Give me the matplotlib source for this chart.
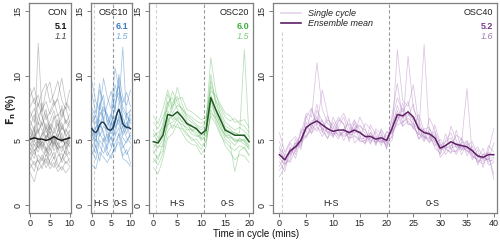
import numpy as np
import matplotlib.pyplot as plt

plt.rcParams['font.family'] = ['Liberation Sans', 'DejaVu Sans']

# single cycles, CON (t = 0..10 min)
con_cycles = [
    [5.2, 6.1, 4.8, 5.5, 6.3, 4.9, 5.8, 6.6, 5.1, 4.7, 5.4],
    [4.1, 3.6, 4.9, 4.2, 3.8, 4.6, 5.2, 4.0, 3.5, 4.4, 4.8],
    [6.8, 7.5, 6.2, 7.9, 6.6, 7.2, 8.1, 6.9, 7.4, 6.3, 7.0],
    [3.2, 2.6, 3.9, 3.4, 4.5, 3.1, 3.7, 2.9, 3.6, 4.2, 3.3],
    [5.9, 5.1, 12.5, 7.0, 5.6, 6.2, 5.0, 5.7, 6.4, 5.3, 5.8],
    [2.5, 1.8, 3.0, 3.7, 2.9, 3.5, 4.1, 3.2, 2.7, 3.4, 3.0],
    [8.4, 9.1, 7.6, 8.8, 9.4, 7.9, 8.6, 9.6, 8.1, 7.4, 8.9],
    [4.6, 5.4, 5.9, 4.3, 5.1, 5.7, 4.5, 5.3, 6.0, 5.5, 4.9],
    [7.2, 6.4, 7.9, 6.8, 5.9, 6.5, 7.3, 6.1, 6.7, 7.6, 6.4],
    [3.9, 4.7, 4.1, 5.0, 4.4, 3.8, 4.9, 4.3, 4.6, 3.9, 5.2],
    [5.6, 4.9, 6.4, 5.8, 5.2, 6.0, 5.5, 6.3, 4.8, 5.9, 5.3],
    [6.1, 7.0, 5.5, 6.6, 7.4, 5.8, 6.9, 5.6, 7.7, 6.4, 6.0],
    [4.4, 3.9, 5.2, 4.7, 4.0, 5.4, 4.2, 4.8, 4.1, 5.0, 4.5],
    [9.0, 7.8, 8.5, 7.2, 8.9, 9.5, 7.7, 8.3, 9.8, 8.0, 7.5],
    [5.0, 5.8, 4.4, 5.3, 6.0, 4.6, 5.4, 4.7, 5.6, 4.3, 5.7],
    [3.5, 4.3, 3.3, 3.9, 3.2, 4.4, 3.6, 4.5, 3.3, 3.8, 4.1],
    [6.5, 5.7, 6.9, 6.1, 7.1, 5.4, 6.7, 7.0, 5.8, 6.6, 6.2],
    [4.8, 4.2, 4.6, 5.6, 4.9, 4.3, 5.0, 4.4, 5.2, 4.6, 3.9],
    [7.6, 8.3, 6.9, 7.4, 8.0, 7.0, 7.7, 8.2, 6.8, 7.9, 7.3],
    [2.9, 3.4, 2.7, 3.1, 3.6, 2.8, 3.3, 2.6, 3.0, 2.5, 2.9],
    [5.3, 4.6, 5.0, 4.5, 5.4, 5.1, 4.7, 5.5, 4.9, 5.2, 4.8],
    [4.3, 5.0, 4.4, 4.9, 4.2, 4.7, 5.3, 4.6, 4.4, 4.9, 4.6],
    [6.0, 5.3, 5.7, 6.4, 5.0, 6.3, 5.9, 5.2, 6.2, 5.6, 6.5],
    [3.7, 3.1, 3.5, 2.8, 3.9, 3.3, 2.9, 3.8, 4.0, 3.2, 3.6],
]
con_mean = [5.1, 5.2, 5.1, 5.1, 5.0, 5.1, 5.3, 5.1, 5.0, 5.1, 5.2]

# OSC10 (t = 0..10 min)
osc10_cycles = [
    [5.8, 4.9, 7.2, 6.8, 5.1, 6.3, 7.5, 9.8, 6.4, 5.5, 6.7],
    [4.2, 3.5, 5.0, 4.6, 3.8, 4.4, 5.3, 6.0, 4.7, 3.9, 4.5],
    [7.5, 6.8, 8.9, 7.9, 6.4, 7.1, 8.4, 9.2, 7.6, 7.0, 7.3],
    [6.1, 5.2, 5.8, 7.4, 6.9, 5.5, 6.2, 7.8, 12.2, 6.6, 5.9],
    [3.9, 4.6, 3.4, 5.2, 4.1, 3.6, 4.8, 5.5, 3.8, 4.3, 3.2],
    [8.6, 7.1, 9.4, 6.5, 7.8, 8.8, 7.2, 10.1, 8.3, 7.7, 8.9],
    [5.3, 6.0, 6.6, 5.4, 4.9, 5.8, 6.9, 6.2, 5.6, 6.4, 5.1],
    [6.9, 5.8, 7.7, 8.5, 6.2, 6.7, 9.3, 8.1, 6.8, 5.9, 7.4],
    [4.7, 4.0, 5.6, 4.9, 5.5, 4.5, 5.9, 6.6, 5.2, 4.8, 5.6],
    [9.5, 8.0, 7.3, 9.8, 8.3, 7.4, 10.6, 9.0, 7.9, 8.7, 7.6],
    [5.0, 5.5, 6.2, 5.7, 4.3, 6.5, 5.4, 7.0, 6.0, 5.2, 4.8],
    [3.1, 2.8, 4.1, 3.7, 3.3, 3.9, 4.4, 4.9, 3.6, 3.4, 3.0],
    [7.2, 6.3, 6.9, 7.6, 7.0, 6.1, 7.9, 8.7, 7.3, 6.8, 6.5],
    [6.4, 6.9, 5.3, 6.1, 5.7, 5.0, 6.5, 7.4, 5.9, 7.1, 6.3],
    [5.6, 4.4, 7.9, 6.3, 5.9, 7.0, 6.0, 6.8, 5.4, 6.0, 7.0],
    [4.5, 5.1, 4.6, 4.0, 4.7, 5.3, 4.1, 5.6, 4.4, 5.0, 5.4],
]
osc10_mean = [5.9, 5.7, 5.6, 5.8, 6.2, 6.4, 6.4, 6.2, 5.9, 5.8, 5.8,
              6.0, 6.5, 7.1, 7.4, 6.9, 6.3, 6.1, 6.0, 6.0, 5.9]

# OSC20 (t = 0..20 min)
osc20_cycles = [
    [4.2, 3.5, 4.8, 6.1, 7.9, 8.4, 7.2, 6.5, 5.7, 6.0, 5.1, 5.3, 9.6, 8.2, 6.9, 5.5, 5.0, 4.6, 5.2, 4.9, 4.3],
    [5.8, 5.2, 6.3, 8.6, 7.4, 9.1, 7.8, 6.9, 6.6, 6.2, 6.0, 6.4, 11.4, 8.8, 7.3, 6.4, 6.1, 5.8, 6.0, 5.7, 5.3],
    [3.6, 3.1, 4.0, 5.7, 6.2, 6.0, 5.9, 5.4, 5.2, 4.8, 4.3, 5.0, 6.9, 6.3, 5.4, 4.9, 4.5, 4.2, 4.6, 4.4, 3.8],
    [6.4, 5.9, 6.8, 7.5, 8.8, 7.9, 7.4, 7.0, 6.8, 6.5, 6.3, 6.6, 9.2, 8.0, 7.6, 6.8, 6.5, 6.7, 6.3, 6.1, 5.6],
    [4.7, 4.4, 5.1, 7.3, 6.6, 7.0, 6.4, 5.8, 5.9, 5.6, 5.0, 5.4, 8.0, 7.2, 6.2, 5.3, 5.2, 5.0, 4.9, 5.1, 4.6],
    [2.9, 2.4, 3.6, 5.2, 5.5, 6.3, 5.6, 5.0, 4.7, 4.6, 3.9, 4.5, 7.4, 6.5, 5.6, 4.6, 4.1, 3.5, 3.9, 3.8, 3.3],
    [5.3, 5.6, 6.0, 8.0, 7.1, 7.7, 7.5, 6.7, 6.4, 6.1, 5.8, 6.2, 10.1, 7.8, 7.0, 6.1, 5.9, 5.5, 5.6, 12.0, 5.1],
    [4.0, 4.6, 4.5, 6.5, 6.9, 6.5, 6.2, 6.0, 5.5, 5.3, 5.4, 5.6, 7.7, 7.0, 6.3, 5.7, 5.3, 5.1, 5.0, 4.7, 4.4],
    [6.9, 6.3, 7.4, 8.9, 7.6, 8.2, 8.3, 7.4, 7.2, 6.9, 6.6, 6.8, 8.8, 8.5, 7.8, 7.1, 6.9, 6.4, 6.5, 6.6, 6.0],
    [3.3, 3.8, 4.2, 6.8, 5.9, 6.7, 6.0, 5.6, 5.0, 5.1, 4.6, 4.9, 7.1, 6.8, 5.9, 5.1, 4.8, 2.6, 4.2, 4.5, 3.9],
    [5.5, 4.9, 5.7, 7.9, 8.3, 7.4, 6.9, 6.3, 6.2, 5.8, 5.5, 5.9, 8.5, 7.5, 6.6, 5.9, 5.7, 5.6, 5.4, 5.3, 4.8],
    [4.4, 5.0, 5.9, 6.2, 6.4, 6.8, 6.5, 6.2, 5.8, 5.4, 5.2, 5.7, 8.3, 6.7, 6.0, 5.4, 5.4, 4.9, 5.1, 5.0, 4.5],
]
osc20_mean = [4.9, 4.8, 5.4, 7.0, 6.9, 7.2, 6.8, 6.3, 6.1, 5.9, 5.5,
              5.8, 8.3, 7.4, 6.6, 5.8, 5.6, 5.4, 5.4, 5.4, 4.9]

# OSC40 (t = 0..40 min)
osc40_cycles = [
    [2.2, 3.0, 3.8, 4.6, 5.5, 7.1, 6.8, 11.0, 7.4, 6.3, 5.9, 6.8, 6.2, 5.1, 6.5, 5.8, 4.9, 5.6, 4.7, 5.4, 4.8,
     6.6, 8.3, 7.2, 8.0, 6.4, 5.1, 5.9, 6.0, 4.8, 3.9, 5.0, 5.6, 4.4, 5.2, 4.3, 3.9, 3.4, 3.2, 3.8, 2.4],
    [5.6, 4.1, 4.9, 5.3, 4.6, 6.8, 7.5, 6.2, 8.9, 7.0, 5.2, 6.4, 7.1, 6.0, 5.5, 6.8, 5.9, 4.8, 5.7, 4.9, 5.4,
     5.2, 12.0, 8.1, 7.6, 9.3, 6.2, 5.0, 6.7, 5.8, 3.7, 4.2, 6.1, 5.0, 3.9, 4.8, 3.5, 4.3, 2.9, 4.6, 4.1],
    [3.4, 2.6, 4.4, 3.9, 5.7, 5.2, 6.0, 7.8, 5.6, 6.6, 6.1, 5.3, 5.6, 6.7, 4.8, 5.2, 6.3, 5.9, 4.6, 5.8, 4.3,
     6.2, 7.3, 6.1, 11.5, 7.4, 6.6, 5.3, 4.9, 6.2, 4.8, 3.9, 4.5, 5.4, 5.1, 3.8, 4.6, 3.1, 4.0, 3.3, 3.6],
    [4.5, 3.2, 3.5, 5.1, 4.3, 6.4, 5.5, 6.9, 6.0, 5.1, 6.8, 5.9, 5.0, 5.8, 6.6, 5.3, 4.7, 6.2, 5.4, 4.6, 5.7,
     5.5, 6.4, 7.9, 6.3, 6.1, 5.4, 12.4, 5.2, 4.6, 5.1, 4.4, 4.0, 5.8, 4.2, 5.0, 4.1, 4.5, 3.7, 3.5, 4.8],
    [3.0, 3.9, 4.8, 4.1, 5.9, 5.6, 7.4, 6.1, 5.3, 6.0, 5.4, 6.6, 6.3, 4.9, 6.0, 6.2, 5.5, 4.7, 5.9, 5.5, 4.4,
     6.9, 9.4, 6.7, 7.3, 5.9, 7.0, 5.7, 5.6, 4.4, 4.0, 5.5, 4.3, 4.1, 4.9, 9.0, 3.7, 3.6, 4.4, 3.1, 3.3],
    [4.9, 3.7, 4.0, 4.8, 4.9, 6.9, 5.9, 7.3, 6.5, 5.6, 5.3, 6.0, 6.8, 5.4, 6.3, 4.9, 5.0, 5.6, 4.8, 5.9, 5.1,
     6.0, 7.7, 6.4, 6.9, 7.8, 5.6, 4.9, 5.9, 5.1, 4.6, 4.9, 5.2, 4.5, 4.4, 4.6, 4.9, 3.8, 3.5, 4.2, 5.9],
    [2.7, 3.3, 4.5, 3.6, 5.2, 5.9, 6.5, 6.7, 5.8, 6.9, 5.7, 5.1, 5.9, 6.3, 5.6, 5.7, 5.3, 5.1, 5.2, 4.8, 5.6,
     5.6, 6.5, 7.5, 6.2, 6.3, 5.1, 5.5, 4.8, 5.5, 4.2, 4.7, 4.8, 3.9, 4.7, 4.1, 4.3, 3.3, 3.9, 4.0, 2.0],
    [4.1, 3.6, 3.3, 4.3, 4.8, 5.3, 6.2, 5.7, 6.6, 5.5, 6.4, 5.7, 5.4, 5.7, 5.9, 6.1, 5.8, 5.0, 4.9, 5.1, 4.7,
     5.3, 6.8, 6.8, 7.0, 6.6, 6.0, 5.8, 5.3, 5.0, 4.5, 4.4, 4.6, 4.8, 4.3, 4.4, 4.0, 3.9, 3.6, 4.1, 3.8],
    [3.7, 3.1, 4.1, 4.4, 5.0, 5.4, 5.8, 6.3, 5.9, 5.7, 5.5, 5.6, 5.3, 5.5, 5.4, 5.1, 5.2, 5.4, 5.0, 4.9, 4.9,
     5.7, 6.2, 6.4, 6.7, 6.3, 5.8, 5.2, 5.1, 4.9, 4.3, 4.5, 4.4, 4.6, 4.5, 4.2, 3.8, 3.5, 3.4, 3.6, 3.7],
    [4.3, 3.9, 3.9, 4.8, 4.5, 6.1, 5.6, 6.0, 5.7, 5.2, 5.8, 5.4, 5.7, 5.2, 5.3, 5.0, 4.8, 5.2, 5.3, 5.0, 4.6,
     5.0, 6.9, 6.1, 6.5, 5.9, 5.5, 5.3, 5.2, 5.7, 4.7, 4.3, 4.1, 4.2, 4.8, 4.9, 4.2, 3.7, 3.6, 3.5, 3.4],
]
osc40_mean = [3.9, 3.5, 4.2, 4.5, 5.0, 6.0, 6.3, 6.5, 6.2, 5.9, 5.7, 5.8, 5.8, 5.6, 5.8, 5.6, 5.3, 5.3, 5.1, 5.2, 5.0,
              5.9, 7.0, 6.9, 7.2, 6.8, 5.9, 5.6, 5.5, 5.2, 4.4, 4.6, 4.9, 4.7, 4.6, 4.5, 4.2, 3.8, 3.7, 3.9, 3.9]

names = ['CON', 'OSC10', 'OSC20', 'OSC40']
period = [10, 10, 20, 40]
mean_txt = ['5.1', '6.1', '6.0', '5.2']
sd_txt = ['1.1', '1.5', '1.5', '1.6']

# styling per panel
line_col = ['#3c3c3c', '#3a7fc1', '#4cae4c', '#b07cbf']
line_alpha = [0.3, 0.45, 0.4, 0.45]
mean_col = ['#1a1a1a', '#1f3f5f', '#1e5a22', '#5e1f66']
txt_col = ['#111111', '#3a7fc1', '#3fae3f', '#7a3b8a']
sd_col = ['#444444', '#7aaedc', '#7ccc7c', '#a57ab5']

cycles = [con_cycles, osc10_cycles, osc20_cycles, osc40_cycles]
means = [con_mean, osc10_mean, osc20_mean, osc40_mean]

W, H = 500, 242
boxes = [(29, 71), (91, 132), (149, 253), (273, 497)]
xlims = [(-0.35, 10.35), (-0.25, 10.4), (-0.9, 20.8), (-1.2, 40.6)]
hs_pos = [None, (2.4, 7.5), (4.9, 15.5), (9.6, 28.5)]
spine = '#7f7f7f'

fig = plt.figure(figsize=(W / 100, H / 100), dpi=100)
axes = []
for i in range(4):
    l, r = boxes[i]
    ax = fig.add_axes([l / W, 1 - 213 / H, (r - l) / W, 210 / H])
    axes.append(ax)

    for cyc in cycles[i]:
        t = np.linspace(0, period[i], len(cyc))
        ax.plot(t, cyc, color=line_col[i], alpha=line_alpha[i], lw=0.55)
    tm = np.linspace(0, period[i], len(means[i]))
    ax.plot(tm, means[i], color=mean_col[i], lw=1.1, zorder=5)

    ax.set_xlim(*xlims[i])
    ax.set_ylim(-0.6, 15.6)
    ax.set_yticks([0, 5, 10, 15])
    ax.set_yticklabels(['0', '5', '10', '15'], rotation=90, va='center')
    ax.set_xticks(np.arange(0, period[i] + 1, 5))
    ax.tick_params(labelsize=6.5, length=3, width=0.7, color=spine,
                   labelcolor='#222222', pad=1.5)
    for s in ax.spines.values():
        s.set_color(spine)
        s.set_linewidth(0.9)

    rx = 1 - 4.0 / (r - l)
    ax.text(rx, 0.955, names[i], transform=ax.transAxes, ha='right',
            va='center', fontsize=6.5, color='#222222')
    ax.text(rx, 0.89, mean_txt[i], transform=ax.transAxes, ha='right',
            va='center', fontsize=6.5, color=txt_col[i], fontweight='bold')
    ax.text(rx, 0.84, sd_txt[i], transform=ax.transAxes, ha='right',
            va='center', fontsize=6.5, color=sd_col[i], style='italic')

    if i > 0:
        ax.axvline(0.5, color='#d0d0d0', lw=0.8, ls=(0, (3, 2)), zorder=1)
        ax.axvline(period[i] / 2 + 0.5, color='#999999', lw=0.8,
                   ls=(0, (3, 2)), zorder=1)
        ax.text(hs_pos[i][0], 0.1, 'H-S', ha='center', va='center',
                fontsize=6.5, color='#222222')
        ax.text(hs_pos[i][1], 0.1, '0-S', ha='center', va='center',
                fontsize=6.5, color='#222222')

# legend in the last panel
ax = axes[3]
h1, = ax.plot([], [], color=line_col[3], alpha=0.35, lw=1.2)
h2, = ax.plot([], [], color=mean_col[3], lw=1.2)
leg = ax.legend([h1, h2], ['Single cycle', 'Ensemble mean'], loc='upper left',
                bbox_to_anchor=(0.0, 1.01), frameon=True, framealpha=1,
                edgecolor='none', fontsize=6.5, handlelength=2.2,
                labelspacing=0.1, borderpad=0.4)
for t in leg.get_texts():
    t.set_style('italic')
    t.set_color('#222222')
leg.set_zorder(10)

fig.text(0.022, 0.55, r'$\mathbf{F_n}$ (%)', rotation=90, ha='center',
         va='center', fontsize=7, fontweight='bold', color='#222222')
fig.text(0.512, 0.035, 'Time in cycle (mins)', ha='center', va='center',
         fontsize=7, color='#111111')

fig.savefig('out.png', dpi=100)
